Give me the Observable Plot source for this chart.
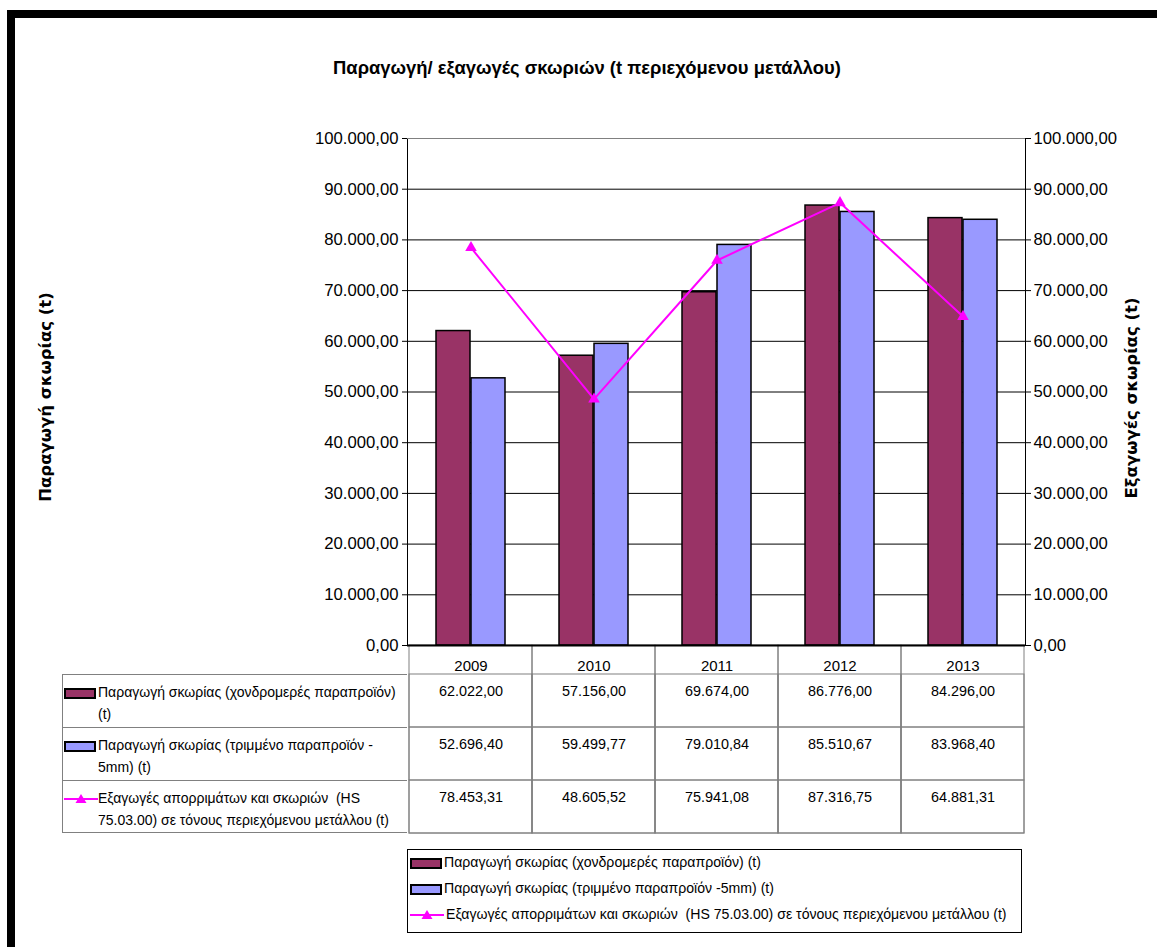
<!DOCTYPE html>
<html><head><meta charset="utf-8">
<script src="https://cdn.jsdelivr.net/npm/d3@7"></script>
<script src="https://cdn.jsdelivr.net/npm/@observablehq/plot@0.6"></script>
<style>
body{margin:0;background:#fff;}
#page{position:relative;width:1157px;height:947px;overflow:hidden;background:#fff;font-family:"Liberation Sans",Arial,sans-serif;color:#000;}
.abs{position:absolute;}
#title{left:587px;top:57px;transform:translateX(-50%);white-space:nowrap;font-weight:bold;font-size:18.4px;}
.ytitle{white-space:nowrap;font-family:"DejaVu Sans",Verdana,sans-serif;font-weight:bold;font-size:16.5px;}
.lab{font-size:14px;line-height:22px;white-space:pre;}
.leg{font-size:14.1px;line-height:22px;white-space:pre;}
.sw{display:inline-block;box-sizing:border-box;width:32px;height:11px;border:2px solid #000;vertical-align:middle;margin-right:2px;}
</style></head><body><div id="page"></div>
<script>
const years = ["2009", "2010", "2011", "2012", "2013"];
const coarse = [62022.00, 57156.00, 69674.00, 86776.00, 84296.00];
const crushed = [52696.40, 59499.77, 79010.84, 85510.67, 83968.40];
const exportsT = [78453.31, 48605.52, 75941.08, 87316.75, 64881.31];
const seriesNames = [
  "Παραγωγή σκωρίας (χονδρομερές παραπροϊόν) (t)",
  "Παραγωγή σκωρίας (τριμμένο παραπροϊόν -5mm) (t)",
  "Εξαγωγές απορριμάτων και σκωριών  (HS 75.03.00) σε τόνους περιεχόμενου μετάλλου (t)"
];
const tableLabels = [
  "Παραγωγή σκωρίας (χονδρομερές παραπροϊόν)\n(t)",
  "Παραγωγή σκωρίας (τριμμένο παραπροϊόν -\n5mm) (t)",
  "Εξαγωγές απορριμάτων και σκωριών  (HS\n75.03.00) σε τόνους περιεχόμενου μετάλλου (t)"
];
const seriesColors = ["#993366", "#9999FF", "#FF00FF"];
const yTicks = [0, 10000, 20000, 30000, 40000, 50000, 60000, 70000, 80000, 90000, 100000];
const titleText = "Παραγωγή/ εξαγωγές σκωριών (t περιεχόμενου μετάλλου)";
const leftTitle = "Παραγωγή σκωρίας (t)";
const rightTitle = "Εξαγωγές σκωρίας (t)";

const fmt = d3.formatLocale({decimal: ",", thousands: ".", grouping: [3], currency: ["", ""]}).format(",.2f");
const rows = years.map((y, i) => ({year: y, coarse: coarse[i], crushed: crushed[i], exp: exportsT[i]}));
const allSeries = [coarse, crushed, exportsT];
const cellData = [];
allSeries.forEach((vals, r) => years.forEach((y, i) => cellData.push({row: r, year: y, v: vals[i]})));

const page = document.getElementById("page");
function add(html, cls, style, parent) {
  const d = document.createElement("div");
  d.className = "abs " + (cls || "");
  d.innerHTML = html;
  Object.assign(d.style, style || {});
  (parent || page).appendChild(d);
  return d;
}
// frame borders
add("", "", {left: "7px", top: "10px", width: "1150px", height: "8px", background: "#000"});
add("", "", {left: "7px", top: "10px", width: "8px", height: "937px", background: "#000"});
add(titleText, "", {}).id = "title";
add(leftTitle, "ytitle", {left: "45px", top: "397px", transform: "translate(-50%,-50%) rotate(-90deg)"});
add(rightTitle, "ytitle", {left: "1131px", top: "398px", transform: "translate(-50%,-50%) rotate(-90deg)"});

const font = {fontFamily: '"Liberation Sans", Arial, sans-serif', fontSize: "16.7px", color: "#000", background: "transparent", overflow: "visible"};

const table = Plot.plot({
  width: 1157, height: 189, marginTop: 29, marginBottom: 1, marginLeft: 407, marginRight: 132,
  style: {...font, fontSize: "14.4px"},
  x: {domain: years, padding: 0, axis: null},
  y: {domain: [0, 1, 2], padding: 0, axis: null},
  marks: [
    Plot.cell(years, {x: d => d, fill: "none", stroke: "#808080", inset: 0, insetTop: -29}),
    Plot.cell(cellData, {x: "year", y: "row", fill: "none", stroke: "#808080", inset: 0}),
    Plot.text(cellData, {x: "year", y: "row", text: d => fmt(d.v), dy: -10, fontSize: 14.4}),
    Plot.text(years, {x: d => d, frameAnchor: "top", text: d => d, dy: -14, fontSize: 15})
  ]
});
table.style.position = "absolute"; table.style.left = "0px"; table.style.top = "645px";
page.appendChild(table);

const chart = Plot.plot({
  width: 1157, height: 547, marginTop: 38, marginBottom: 2, marginLeft: 407, marginRight: 132,
  style: font,
  x: {domain: years, padding: 0, axis: null},
  y: {domain: [0, 100000], axis: null},
  marks: [
    Plot.gridY(yTicks.filter(t => t > 0 && t < 100000), {stroke: "#000", strokeOpacity: 1}),
    Plot.frame({stroke: "#000"}),
    Plot.ruleY([100000], {stroke: "#808080"}),
    Plot.barY(rows, {x: "year", y: "coarse", fill: seriesColors[0], stroke: "#000", strokeWidth: 1.5, insetLeft: 27, insetRight: 62}),
    Plot.barY(rows, {x: "year", y: "crushed", fill: seriesColors[1], stroke: "#000", strokeWidth: 1.5, insetLeft: 62, insetRight: 27}),
    Plot.ruleY([0], {stroke: "#000", strokeWidth: 2}),
    Plot.line(rows, {x: "year", y: "exp", stroke: seriesColors[2], strokeWidth: 2}),
    Plot.dot(rows, {x: "year", y: "exp", symbol: "triangle", fill: seriesColors[2], r: 4.3}),
    Plot.axisY(yTicks, {anchor: "left", tickFormat: fmt, tickSize: 5, tickPadding: 4, label: null}),
    Plot.axisY(yTicks, {anchor: "right", tickFormat: fmt, tickSize: 5, tickPadding: 3, label: null})
  ]
});
chart.style.position = "absolute"; chart.style.left = "0px"; chart.style.top = "100px"; chart.style.zIndex = "2";
page.appendChild(chart);

// label column of the data table, aligned on the table's y scale
const ys = table.scale("y");
const bw = ys.bandwidth;
const lineSwatch = '<svg width="34" height="12" style="vertical-align:middle;margin-right:2px"><line x1="0" y1="6" x2="34" y2="6" stroke="' + seriesColors[2] + '" stroke-width="2"/><path d="M17,1 L22.5,10 L11.5,10 Z" fill="' + seriesColors[2] + '"/></svg>';
const sw = i => i < 2 ? '<span class="sw" style="background:' + seriesColors[i] + '"></span>' : lineSwatch;
[0, 1, 2].forEach(r => {
  const top = 645 + ys.apply(r);
  add("", "", {left: "62px", top: top + "px", width: "345px", height: bw + "px", boxSizing: "border-box", borderLeft: "1px solid #808080", borderTop: "1px solid #808080", borderBottom: r === 2 ? "1px solid #808080" : "none"});
  add('<div style="position:absolute;left:-34px;top:0">' + sw(r) + '</div>' + tableLabels[r], "lab", {left: "98px", top: (top + 7) + "px"});
});

// legend
const leg = add("", "", {left: "407px", top: "849px", width: "615px", height: "84px", boxSizing: "border-box", border: "1px solid #000"});
seriesNames.forEach((n, i) => {
  add(sw(i) + n, "leg", {left: "2px", top: (1 + i * 26) + "px"}, leg);
});
</script></body></html>
